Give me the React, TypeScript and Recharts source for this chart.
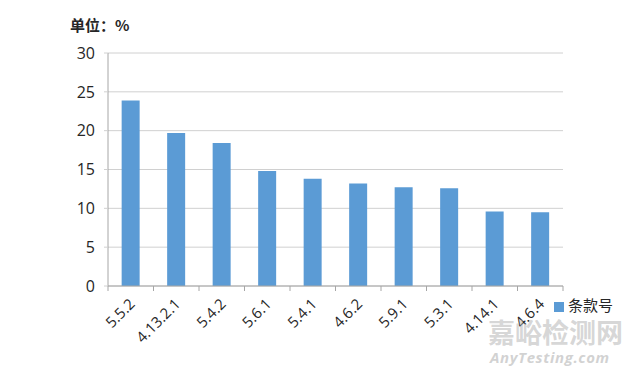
import React from 'react';
import { BarChart, Bar, XAxis, YAxis, CartesianGrid, Legend } from 'recharts';

const categories = ['5.5.2', '4.13.2.1', '5.4.2', '5.6.1', '5.4.1', '4.6.2', '5.9.1', '5.3.1', '4.14.1', '4.6.4'];
const values = [23.9, 19.7, 18.4, 14.8, 13.8, 13.2, 12.7, 12.6, 9.6, 9.5];
const yTicks = [0, 5, 10, 15, 20, 25, 30];
const seriesName = '条款号';
const unitLabel = '单位：%';
const watermarkCn = '嘉峪检测网';
const watermarkEn = 'AnyTesting.com';

const data = categories.map((c, i) => ({ name: c, value: values[i] }));

const W = 640;
const H = 368;
const margin = { top: 53, right: 77, bottom: 0, left: 0 };
const yAxisWidth = 108;
const band = (W - margin.left - margin.right - yAxisWidth) / categories.length;

const XTick = (props: any) => {
  const { x, y, payload, index } = props;
  return (
    <g>
      <line x1={x - band / 2} y1={y - 8} x2={x - band / 2} y2={y - 3} stroke="#a6a6a6" />
      {index === categories.length - 1 && (
        <line x1={x + band / 2} y1={y - 8} x2={x + band / 2} y2={y - 3} stroke="#a6a6a6" />
      )}
      <text
        x={x + 5}
        y={y + 11}
        textAnchor="end"
        transform={`rotate(-45, ${x + 5}, ${y + 11})`}
        fontSize={15}
        fill="#262626"
        fontFamily="'Open Sans', sans-serif"
      >
        {payload.value}
      </text>
    </g>
  );
};

export default function App() {
  return (
    <div style={{ position: 'absolute', left: 0, top: 0, width: W, height: H, background: '#fff' }}>
      <BarChart width={W} height={H} data={data} margin={margin} barCategoryGap="30%">
        <CartesianGrid vertical={false} stroke="#d0d0d0" />
        <XAxis
          dataKey="name"
          height={82}
          interval={0}
          tickLine={false}
          axisLine={{ stroke: '#a6a6a6' }}
          tick={<XTick />}
        />
        <YAxis
          width={yAxisWidth}
          domain={[0, 30]}
          ticks={yTicks}
          interval={0}
          tickSize={4}
          tickMargin={9}
          tickLine={{ stroke: '#d0d0d0' }}
          axisLine={{ stroke: '#a6a6a6' }}
          tick={{ fontSize: 16, fill: '#262626', fontFamily: "'Open Sans', sans-serif" }}
        />
        <Bar dataKey="value" name={seriesName} fill="#5B9BD5" isAnimationActive={false} />
        <Legend
          layout="vertical"
          verticalAlign="middle"
          align="center"
          iconType="square"
          iconSize={10}
          wrapperStyle={{ top: 296, left: 554, width: 90, lineHeight: '18px' }}
          formatter={(v: string) => (
            <span style={{ color: '#262626', fontSize: 15, lineHeight: '18px', fontFamily: "'Noto Sans CJK SC', sans-serif" }}>{v}</span>
          )}
        />
      </BarChart>
      <div
        style={{
          position: 'absolute',
          left: 488,
          top: 318,
          fontSize: 27,
          fontWeight: 'bold',
          color: 'rgba(180,180,180,0.55)',
          fontFamily: "'Noto Sans CJK SC', sans-serif",
          whiteSpace: 'nowrap',
          lineHeight: '27px',
        }}
      >
        {watermarkCn}
      </div>
      <div
        style={{
          position: 'absolute',
          left: 490,
          top: 349,
          fontSize: 15,
          fontWeight: 'bold',
          fontStyle: 'italic',
          color: 'rgba(180,180,180,0.6)',
          fontFamily: "'Open Sans', sans-serif",
          whiteSpace: 'nowrap',
          lineHeight: '17px',
          letterSpacing: '0.6px',
        }}
      >
        {watermarkEn}
      </div>
      <div
        style={{
          position: 'absolute',
          left: 70,
          top: 14,
          fontSize: 15,
          fontWeight: 'bold',
          color: '#262626',
          fontFamily: "'Noto Sans CJK SC', sans-serif",
          whiteSpace: 'nowrap',
        }}
      >
        {unitLabel}
      </div>
    </div>
  );
}
